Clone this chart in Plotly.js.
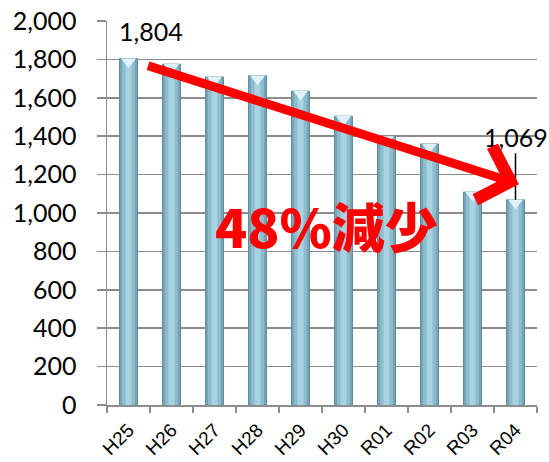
<!DOCTYPE html>
<html>
<head>
<meta charset="utf-8">
<script src="https://cdn.plot.ly/plotly-3.0.1.min.js"></script>
<style>html,body{margin:0;padding:0;background:#fff;}#chart{width:549px;height:462px;}</style>
</head>
<body>
<div id="chart"></div>
<script>
const categories = ["H25","H26","H27","H28","H29","H30","R01","R02","R03","R04"];
const values = [1804, 1775, 1708, 1715, 1635, 1504, 1398, 1360, 1109, 1069];
const yTickValues = [0,200,400,600,800,1000,1200,1400,1600,1800,2000];
const firstLabel = "1,804";
const lastLabel = "1,069";
const reductionText = "48%減少";

const numFont = "Lato, 'Open Sans', sans-serif";

function barLayer(width, color, lineColor) {
  return {
    type: "bar", x: categories, y: values, width: width,
    marker: {color: color, line: {color: lineColor, width: lineColor ? 1 : 0}},
    hoverinfo: "skip", showlegend: false
  };
}

const traces = [
  barLayer(0.42, "#76a3b5", "#5f8b9c"),
  barLayer(0.30, "#8dbccd", null),
  barLayer(0.14, "#a6d2e1", null),
  {
    type: "scatter", mode: "markers", x: categories, y: values,
    marker: {symbol: "triangle-down", size: 13, color: "#def2f8", standoff: 3},
    hoverinfo: "skip", showlegend: false, cliponaxis: false
  }
];

const layout = {
  width: 549, height: 462,
  margin: {l: 107, r: 12, t: 21, b: 57},
  paper_bgcolor: "#fff", plot_bgcolor: "#fff",
  barmode: "overlay",
  showlegend: false,
  xaxis: {
    type: "category", categoryorder: "array", categoryarray: categories,
    range: [-0.5, categories.length - 0.5], autorange: false,
    tickangle: -45, tickfont: {family: "'Liberation Sans', Arial, sans-serif", size: 19, color: "#000"},
    ticklabelstandoff: 5,
    showline: true, linecolor: "#8c8c8c", linewidth: 1.5,
    ticks: "outside", tickson: "boundaries", ticklen: 6, tickcolor: "#8c8c8c", tickwidth: 1.5,
    showgrid: false, automargin: false, fixedrange: true
  },
  yaxis: {
    range: [0, 2000], autorange: false, tickvals: yTickValues, tickformat: ",d",
    tickfont: {family: numFont, size: 25, color: "#000"},
    showline: true, linecolor: "#8c8c8c", linewidth: 1.5,
    ticks: "outside", ticklen: 9, tickcolor: "#8c8c8c", tickwidth: 1.5,
    ticklabelstandoff: 15,
    showgrid: true, gridcolor: "#8c8c8c", gridwidth: 1.5,
    zeroline: false, automargin: false, fixedrange: true
  },
  annotations: [
    {
      x: categories[0], y: values[0], xref: "x", yref: "y",
      text: firstLabel, showarrow: false, xshift: 22, yshift: 28,
      font: {family: numFont, size: 25, color: "#000"}
    },
    {
      x: categories[9], y: values[9], xref: "x", yref: "y",
      text: lastLabel, showarrow: true, arrowhead: 0, arrowwidth: 1.5, arrowcolor: "#000",
      ax: 0, ay: -63, standoff: 0,
      font: {family: numFont, size: 25, color: "#000"}
    },
    {
      x: 9.08, y: 1150, xref: "x", yref: "y",
      ax: 0.42, ay: 1769, axref: "x", ayref: "y",
      text: "", showarrow: true, arrowhead: 4, arrowsize: 1.2, arrowwidth: 9, arrowcolor: "#ff0000"
    },
    {
      x: 0.51, y: 0.47, xref: "paper", yref: "paper",
      text: reductionText, showarrow: false,
      font: {family: "'Noto Sans CJK JP', sans-serif", size: 53, color: "#ff0000", weight: 900}
    }
  ]
};

Plotly.newPlot("chart", traces, layout, {staticPlot: true, displayModeBar: false});
</script>
</body>
</html>
